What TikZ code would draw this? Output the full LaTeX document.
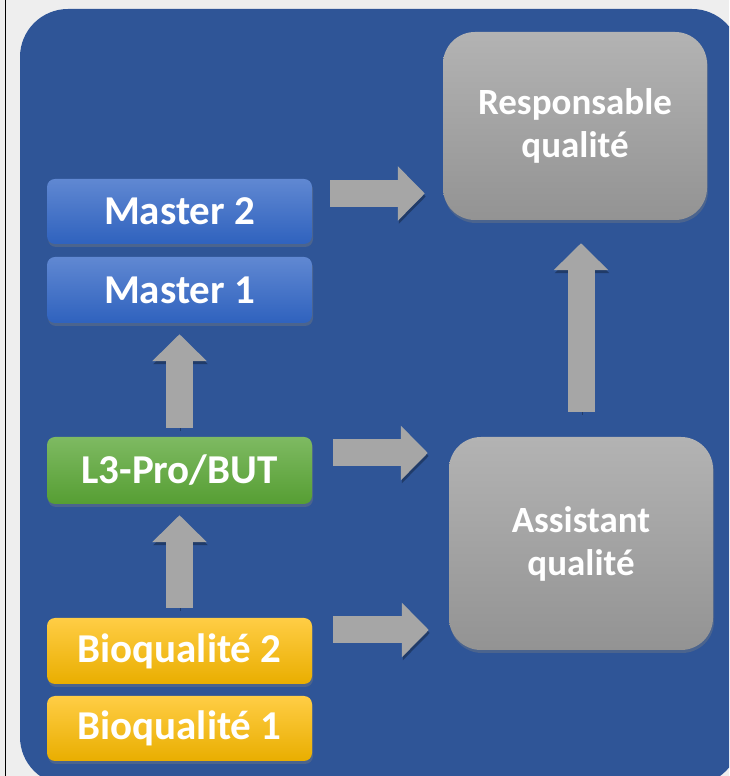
\documentclass[tikz,border=0pt]{standalone}
\usepackage{fontspec}
\setmainfont{Carlito}
\usetikzlibrary{arrows.meta,shadows}

\definecolor{fond}{HTML}{EEEEEE}
\definecolor{cadre}{HTML}{2F5597}
\definecolor{masterhaut}{HTML}{6088D2}
\definecolor{masterbas}{HTML}{2F62BE}
\definecolor{licencehaut}{HTML}{7EBA62}
\definecolor{licencebas}{HTML}{569E33}
\definecolor{bachaut}{HTML}{FFCD45}
\definecolor{bacbas}{HTML}{E9AE00}
\definecolor{grishaut}{HTML}{B3B3B3}
\definecolor{grisbas}{HTML}{939393}
\definecolor{flechegris}{HTML}{A6A6A6}

\tikzset{
    ombre/.style={drop shadow={opacity=0.35, shadow xshift=1pt, shadow yshift=-3pt}},
    etape/.style={ombre, rounded corners=8pt, minimum width=265, minimum height=66,
        text=white, font=\bfseries\fontsize{41}{49}\selectfont},
    master/.style={etape, top color=masterhaut, bottom color=masterbas},
    licence/.style={etape, top color=licencehaut, bottom color=licencebas},
    bioqual/.style={etape, top color=bachaut, bottom color=bacbas},
    metier/.style={ombre, rounded corners=32pt, minimum width=264, align=center,
        text=white, font=\bfseries\fontsize{37}{43}\selectfont,
        top color=grishaut, bottom color=grisbas},
    fleche/.style={line width=27pt, draw=flechegris, -{Triangle[width=53pt,length=27pt]},
        preaction={draw=black, opacity=0.3, transform canvas={shift={(1pt,-3pt)}}}},
}

\begin{document}
\begin{tikzpicture}[x=1pt, y=1pt]
    \useasboundingbox (0,0) rectangle (729,776);
    \clip (0,0) rectangle (729,776);
    \fill[fond] (0,0) rectangle (729,776);
    \draw[black, line width=1pt] (5,0) -- (5,776);
    \fill[cadre, rounded corners=48pt] (20,-9) rectangle (740,767);

    % formations
    \node[master, minimum height=65] (m2) at (179.5,564.5) {Master 2};
    \node[master] (m1) at (179.5,486) {Master 1};
    \node[licence, minimum height=67] (l3) at (179.5,305.5) {L3-Pro/BUT};
    \node[bioqual] (bio2) at (179.5,125) {Bioqualité 2};
    \node[bioqual, minimum height=65] (bio1) at (179.5,47.5) {Bioqualité 1};

    % metiers
    \node[metier, minimum height=188] (resp) at (575,650) {Responsable\\qualité};
    \node[metier, minimum height=213] (assist) at (581,232.5) {Assistant\\qualité};

    % fleches
    \coordinate (d1) at ([shift={(18,18)}]m2.east);
    \coordinate (d2) at ([shift={(21,17.5)}]l3.east);
    \coordinate (d3) at ([shift={(21,21)}]bio2.east);
    \draw[fleche, shorten >=18pt] (d1) -- (d1 -| resp.west);
    \draw[fleche, shorten >=21pt] (d2) -- (d2 -| assist.west);
    \draw[fleche, shorten >=20pt] (d3) -- (d3 -| assist.west);
    \draw[fleche, shorten <=9pt, shorten >=11pt] (l3.north) -- (m1.south);
    \draw[fleche, shorten <=10pt, shorten >=11pt] (bio2.north) -- (l3.south);
    \draw[fleche, shorten <=25pt, shorten >=23pt] (assist.north) -- (assist.north |- resp.south);
\end{tikzpicture}
\end{document}
